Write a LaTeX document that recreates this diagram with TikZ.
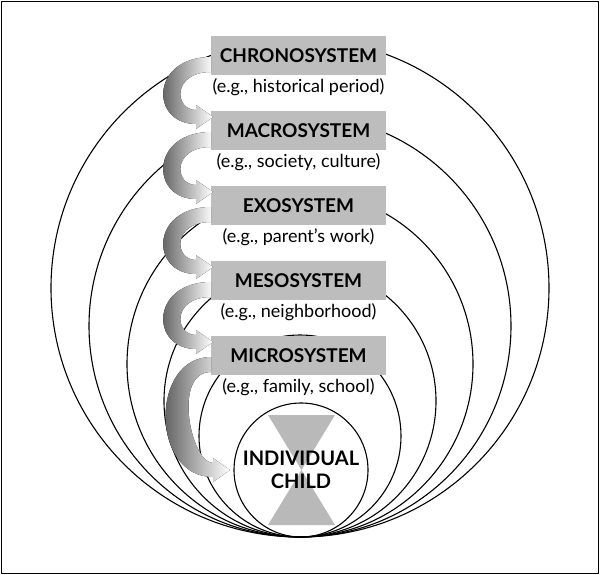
\documentclass[tikz,border=0pt]{standalone}
\usepackage{fontspec}
\setmainfont{Lato}
\usetikzlibrary{positioning}
\definecolor{boxgray}{HTML}{BDBDBD}
\tikzset{
  sysbox/.style={fill=boxgray,minimum width=175pt,minimum height=39pt,inner sep=0pt,
    font=\fontsize{19}{21}\selectfont\bfseries},
  syssub/.style={font=\fontsize{18}{20}\selectfont,inner sep=1pt},
  ring/.style={line width=1.1pt,black},
  arrowshade/.style={left color=black!75,right color=white,draw=none},
}
% one curved shaded arrow: start band top y, end band centre y, end x
\newcommand{\loopArrow}[3]{%
  \fill[arrowshade] (211,#1) .. controls (150,#1) and (150,#2+7) .. (#3,#2+7)
    -- (#3,#2+12) -- (#3+17,#2) -- (#3,#2-12) -- (#3,#2-7)
    .. controls (#3-22,#2-7) and (172,#1+15) .. (211,#1+15) -- cycle;}
\begin{document}
\begin{tikzpicture}[x=1pt,y=-1pt]
\useasboundingbox (0,0) rectangle (600,575);
\draw[line width=1pt] (1.5,1.5) rectangle (598.5,573.5);
% Drawing rings, all touching at the bottom
\foreach \r in {249,211,173,136,101}
  \draw[ring] (300,537-\r) circle (\r);
% Drawing the child
\fill[gray!55] (268,415) -- (335,415) -- (301.5,470) -- cycle;
\fill[gray!55] (268,525) -- (335,525) -- (301.5,470) -- cycle;
\draw[ring] (301,470) circle (67);
\node[font=\fontsize{20}{23}\selectfont\bfseries,align=center] (child) at (301,470) {INDIVIDUAL\\CHILD};
% Drawing boxes and examples
\foreach \name/\ex [count=\i from 0] in {CHRONOSYSTEM/historical period,MACROSYSTEM/{society, culture},
    EXOSYSTEM/parent's work,MESOSYSTEM/neighborhood,MICROSYSTEM/{family, school}} {
  \node[sysbox] (box\i) at (298.5,55.5+75*\i) {\name};
  \node[syssub] (sub\i) at (298.5,87+75*\i) {(e.g., \ex)};
}
% Drawing arrows
\foreach \i in {0,...,3} {
  \loopArrow{57+75*\i}{117+75*\i}{196}
}
\loopArrow{357}{470}{213}
\end{tikzpicture}
\end{document}
